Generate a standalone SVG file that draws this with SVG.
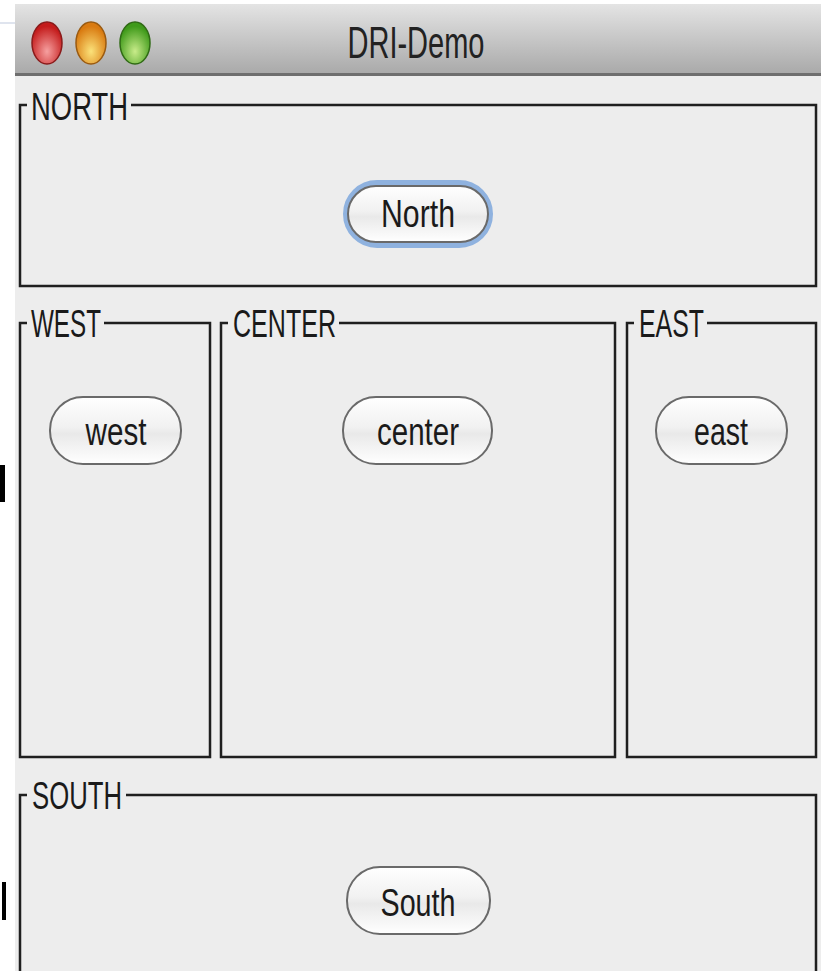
<svg xmlns="http://www.w3.org/2000/svg" width="823" height="971" viewBox="0 0 823 971">
<defs>
<linearGradient id="tb" x1="0" y1="0" x2="0" y2="1">
<stop offset="0" stop-color="#e4e4e4"/>
<stop offset="1" stop-color="#a9a9a9"/>
</linearGradient>
<linearGradient id="btn" x1="0" y1="0" x2="0" y2="1">
<stop offset="0" stop-color="#ffffff"/>
<stop offset="0.45" stop-color="#f1f1f1"/>
<stop offset="0.55" stop-color="#e9e9e9"/>
<stop offset="1" stop-color="#ffffff"/>
</linearGradient>
<radialGradient id="red" cx="0.5" cy="0.7" r="0.6">
<stop offset="0" stop-color="#f6a0a0"/>
<stop offset="1" stop-color="#c41c1c"/>
</radialGradient>
<radialGradient id="org" cx="0.5" cy="0.7" r="0.6">
<stop offset="0" stop-color="#fbe27a"/>
<stop offset="1" stop-color="#d97a10"/>
</radialGradient>
<radialGradient id="grn" cx="0.5" cy="0.7" r="0.6">
<stop offset="0" stop-color="#c9ec8a"/>
<stop offset="1" stop-color="#3f9a1a"/>
</radialGradient>
</defs>
<style>
.frame{fill:none;stroke:#1f1f1f;stroke-width:2.5}
.lbl{font-family:"Liberation Sans",Arial,sans-serif;font-size:39px;fill:#1a1a1a}
.btn{fill:url(#btn);stroke:#6a6a6a;stroke-width:2}
.btxt{font-family:"Liberation Sans",Arial,sans-serif;font-size:38px;fill:#1a1a1a;text-anchor:middle}
.gap{fill:#ededed}
</style>
<rect width="823" height="971" fill="#ffffff"/>
<line x1="0" y1="23" x2="15" y2="23" stroke="#dfe4ee" stroke-width="2"/>
<rect x="0" y="465" width="5" height="37" fill="#000"/>
<rect x="2" y="882" width="4" height="38" fill="#000"/>
<g id="window">
<rect x="15" y="4" width="806" height="967" fill="#ededed"/>
<rect x="15" y="4" width="806" height="70" fill="url(#tb)"/>
<rect x="15" y="73" width="806" height="3" fill="#6e6e6e"/>
<ellipse cx="47" cy="43" rx="15" ry="21" fill="url(#red)" stroke="#8a1a1a" stroke-width="1.5"/>
<ellipse cx="91" cy="43" rx="15" ry="21" fill="url(#org)" stroke="#9a5a10" stroke-width="1.5"/>
<ellipse cx="135" cy="43" rx="15" ry="21" fill="url(#grn)" stroke="#2f6a14" stroke-width="1.5"/>
<text x="416" y="58" font-family="Liberation Sans,Arial,sans-serif" font-size="44" fill="#222" text-anchor="middle" textLength="137" lengthAdjust="spacingAndGlyphs">DRI-Demo</text>
</g>
<g id="north">
<rect class="frame" x="20" y="105" width="796" height="181"/>
<rect class="gap" x="27" y="95" width="104" height="20"/>
<text class="lbl" x="31" y="120" textLength="97" lengthAdjust="spacingAndGlyphs">NORTH</text>
<rect x="346" y="183" width="144" height="62" rx="31" fill="none" stroke="#8fb2df" stroke-width="6"/>
<rect class="btn" x="348" y="186" width="140" height="56" rx="28"/>
<text class="btxt" x="418" y="227" textLength="74" lengthAdjust="spacingAndGlyphs">North</text>
</g>
<g id="west">
<rect class="frame" x="20" y="323" width="190" height="434"/>
<rect class="gap" x="27" y="313" width="77" height="20"/>
<text class="lbl" x="31" y="337" textLength="70" lengthAdjust="spacingAndGlyphs">WEST</text>
<rect class="btn" x="50" y="397" width="131" height="67" rx="33"/>
<text class="btxt" x="116" y="445" textLength="61" lengthAdjust="spacingAndGlyphs">west</text>
</g>
<g id="center">
<rect class="frame" x="221" y="323" width="394" height="434"/>
<rect class="gap" x="228" y="313" width="111" height="20"/>
<text class="lbl" x="233" y="337" textLength="103" lengthAdjust="spacingAndGlyphs">CENTER</text>
<rect class="btn" x="343" y="397" width="149" height="67" rx="33"/>
<text class="btxt" x="418" y="445" textLength="82" lengthAdjust="spacingAndGlyphs">center</text>
</g>
<g id="east">
<rect class="frame" x="627" y="323" width="189" height="434"/>
<rect class="gap" x="634" y="313" width="73" height="20"/>
<text class="lbl" x="639" y="337" textLength="65" lengthAdjust="spacingAndGlyphs">EAST</text>
<rect class="btn" x="656" y="397" width="131" height="67" rx="33"/>
<text class="btxt" x="721" y="445" textLength="54" lengthAdjust="spacingAndGlyphs">east</text>
</g>
<g id="south">
<path class="frame" d="M20 990 V795 H816 V990"/>
<rect class="gap" x="27" y="780" width="99" height="20"/>
<text class="lbl" x="32" y="809" textLength="90" lengthAdjust="spacingAndGlyphs">SOUTH</text>
<rect class="btn" x="347" y="867" width="143" height="67" rx="33"/>
<text class="btxt" x="418" y="916" textLength="75" lengthAdjust="spacingAndGlyphs">South</text>
</g>
<g id="connectors"></g>
</svg>
